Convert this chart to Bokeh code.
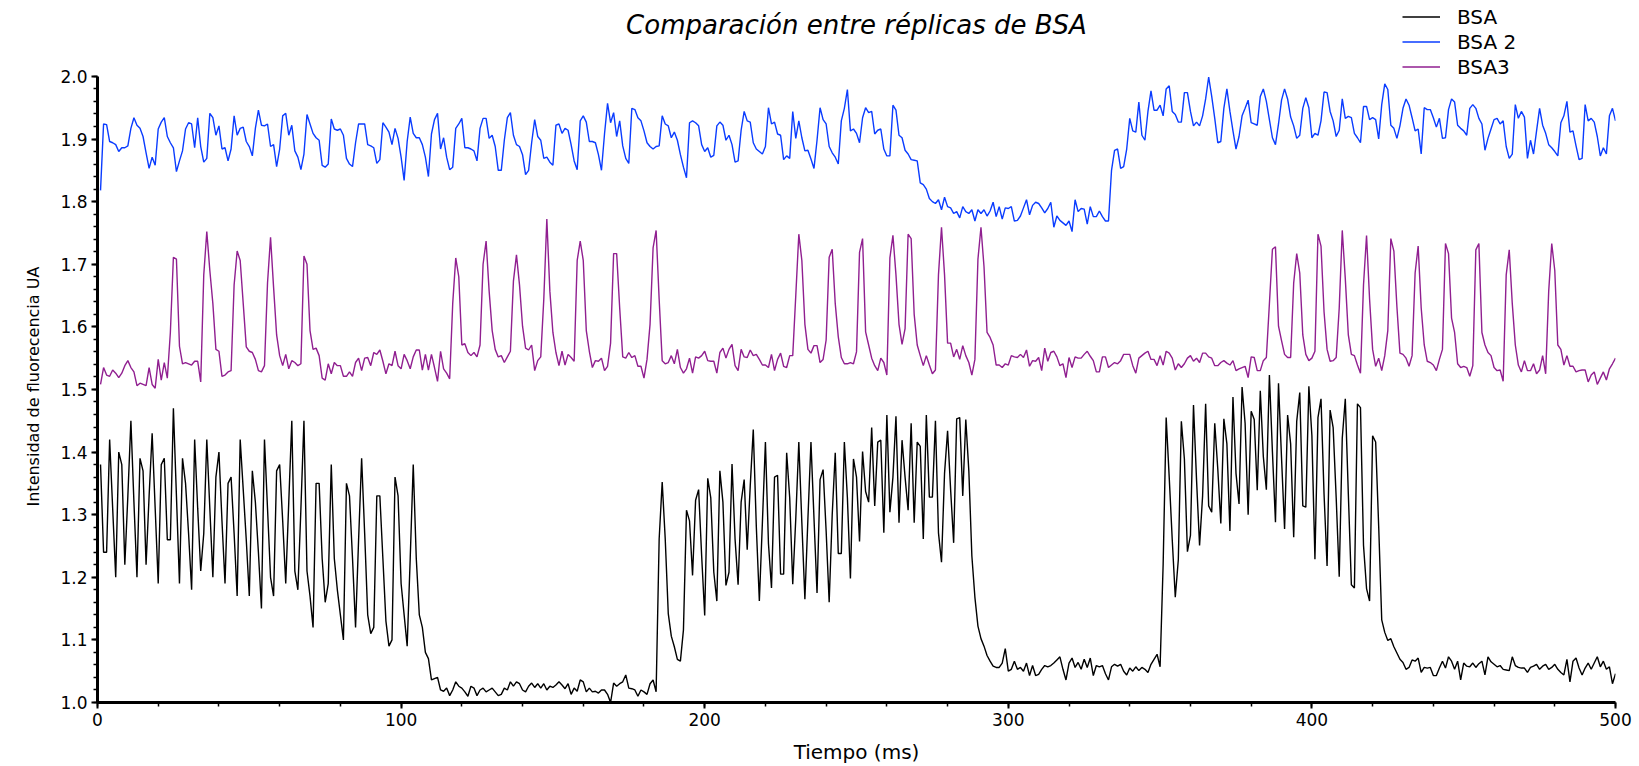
from bokeh.plotting import figure
from bokeh.models import (Range1d, SingleIntervalTicker, PrintfTickFormatter,
                          Legend, LegendItem, Label, Title)
from bokeh.embed import file_html
from bokeh.resources import INLINE

title_text = "Comparación entre réplicas de BSA"
x_label = "Tiempo (ms)"
y_label = "Intensidad de fluorecencia UA"
series_names = ["BSA", "BSA 2", "BSA3"]
series_colors = ["#000000", "#0a3cff", "#901f90"]

# time axis (ms), one sample per ms
time_ms = list(range(1, 501))

bsa = [
    1.38, 1.24, 1.24, 1.42, 1.31, 1.20, 1.40, 1.38, 1.22, 1.33,
    1.45, 1.32, 1.20, 1.39, 1.37, 1.22, 1.33, 1.43, 1.31, 1.19,
    1.38, 1.39, 1.26, 1.26, 1.47, 1.33, 1.19, 1.39, 1.35, 1.27,
    1.18, 1.42, 1.31, 1.21, 1.27, 1.42, 1.31, 1.20, 1.36, 1.40,
    1.29, 1.19, 1.35, 1.36, 1.27, 1.17, 1.42, 1.34, 1.26, 1.17,
    1.37, 1.32, 1.24, 1.15, 1.42, 1.31, 1.20, 1.17, 1.37, 1.38,
    1.29, 1.19, 1.32, 1.45, 1.21, 1.18, 1.31, 1.45, 1.21, 1.17,
    1.12, 1.35, 1.35, 1.23, 1.16, 1.19, 1.38, 1.23, 1.18, 1.14,
    1.10, 1.35, 1.33, 1.23, 1.12, 1.26, 1.39, 1.27, 1.14, 1.11,
    1.12, 1.33, 1.33, 1.23, 1.13, 1.09, 1.10, 1.36, 1.33, 1.19,
    1.14, 1.09, 1.23, 1.38, 1.23, 1.14, 1.12, 1.08, 1.07, 1.036,
    1.038, 1.040, 1.020, 1.018, 1.023, 1.011, 1.020, 1.033, 1.026, 1.023,
    1.017, 1.010, 1.026, 1.023, 1.011, 1.020, 1.023, 1.017, 1.020, 1.023,
    1.017, 1.011, 1.013, 1.023, 1.020, 1.033, 1.026, 1.033, 1.030, 1.020,
    1.017, 1.026, 1.031, 1.024, 1.030, 1.023, 1.030, 1.020, 1.026, 1.024,
    1.028, 1.033, 1.028, 1.022, 1.030, 1.013, 1.023, 1.018, 1.036, 1.033,
    1.017, 1.023, 1.017, 1.018, 1.015, 1.020, 1.020, 1.013, 1.000, 1.031,
    1.026, 1.030, 1.033, 1.044, 1.023, 1.022, 1.020, 1.010, 1.020, 1.017,
    1.013, 1.030, 1.036, 1.017, 1.261, 1.352, 1.261, 1.142, 1.106, 1.089,
    1.069, 1.066, 1.116, 1.307, 1.290, 1.203, 1.323, 1.340, 1.234, 1.139,
    1.358, 1.327, 1.208, 1.162, 1.370, 1.320, 1.187, 1.208, 1.381, 1.261,
    1.188, 1.320, 1.356, 1.244, 1.346, 1.436, 1.281, 1.162, 1.287, 1.416,
    1.254, 1.183, 1.360, 1.363, 1.205, 1.205, 1.399, 1.327, 1.189, 1.294,
    1.416, 1.287, 1.165, 1.294, 1.416, 1.294, 1.175, 1.356, 1.372, 1.274,
    1.160, 1.300, 1.399, 1.238, 1.238, 1.416, 1.327, 1.198, 1.389, 1.360,
    1.257, 1.401, 1.337, 1.320, 1.439, 1.314, 1.416, 1.419, 1.271, 1.459,
    1.304, 1.360, 1.457, 1.287, 1.419, 1.360, 1.307, 1.446, 1.287, 1.416,
    1.409, 1.261, 1.459, 1.328, 1.328, 1.450, 1.271, 1.224, 1.366, 1.434,
    1.340, 1.255, 1.453, 1.455, 1.330, 1.452, 1.370, 1.234, 1.168, 1.122,
    1.102, 1.090, 1.075, 1.066, 1.058, 1.056, 1.056, 1.063, 1.086, 1.050,
    1.053, 1.066, 1.053, 1.056, 1.050, 1.063, 1.043, 1.059, 1.043, 1.045,
    1.053, 1.059, 1.057, 1.059, 1.063, 1.068, 1.073, 1.053, 1.036, 1.063,
    1.071, 1.056, 1.064, 1.053, 1.069, 1.056, 1.071, 1.043, 1.059, 1.057,
    1.059, 1.046, 1.036, 1.057, 1.061, 1.058, 1.061, 1.050, 1.044, 1.055,
    1.050, 1.057, 1.051, 1.056, 1.053, 1.048, 1.061, 1.069, 1.077, 1.057,
    1.220, 1.455, 1.360, 1.260, 1.168, 1.228, 1.449, 1.389, 1.241, 1.267,
    1.475, 1.356, 1.251, 1.330, 1.477, 1.314, 1.304, 1.446, 1.373, 1.286,
    1.453, 1.413, 1.274, 1.488, 1.366, 1.317, 1.504, 1.446, 1.300, 1.465,
    1.452, 1.339, 1.498, 1.393, 1.340, 1.523, 1.400, 1.288, 1.510, 1.390,
    1.277, 1.459, 1.413, 1.264, 1.449, 1.495, 1.314, 1.312, 1.505, 1.426,
    1.229, 1.455, 1.485, 1.333, 1.218, 1.467, 1.439, 1.327, 1.201, 1.422,
    1.485, 1.333, 1.188, 1.183, 1.477, 1.471, 1.251, 1.182, 1.162, 1.426,
    1.416, 1.281, 1.132, 1.112, 1.099, 1.102, 1.089, 1.079, 1.069, 1.064,
    1.053, 1.056, 1.068, 1.066, 1.071, 1.048, 1.056, 1.055, 1.056, 1.043,
    1.043, 1.055, 1.066, 1.055, 1.073, 1.066, 1.053, 1.066, 1.036, 1.063,
    1.058, 1.057, 1.063, 1.056, 1.062, 1.066, 1.044, 1.073, 1.065, 1.061,
    1.057, 1.059, 1.053, 1.052, 1.051, 1.073, 1.059, 1.056, 1.055, 1.055,
    1.048, 1.056, 1.058, 1.061, 1.053, 1.058, 1.061, 1.053, 1.056, 1.061,
    1.053, 1.048, 1.044, 1.069, 1.033, 1.066, 1.071, 1.055, 1.044, 1.055,
    1.063, 1.053, 1.063, 1.073, 1.057, 1.066, 1.053, 1.057, 1.030, 1.046,
]

bsa2 = [
    1.818, 1.924, 1.923, 1.896, 1.894, 1.891, 1.880, 1.886, 1.886, 1.889,
    1.917, 1.934, 1.922, 1.917, 1.904, 1.878, 1.853, 1.871, 1.858, 1.916,
    1.927, 1.934, 1.904, 1.894, 1.886, 1.848, 1.865, 1.881, 1.916, 1.926,
    1.924, 1.886, 1.934, 1.888, 1.863, 1.869, 1.941, 1.934, 1.906, 1.921,
    1.884, 1.886, 1.865, 1.884, 1.937, 1.906, 1.917, 1.919, 1.896, 1.888,
    1.873, 1.917, 1.946, 1.922, 1.921, 1.924, 1.888, 1.891, 1.856, 1.884,
    1.937, 1.941, 1.906, 1.922, 1.881, 1.871, 1.851, 1.876, 1.939, 1.924,
    1.909, 1.902, 1.898, 1.858, 1.855, 1.860, 1.932, 1.916, 1.914, 1.916,
    1.906, 1.869, 1.860, 1.856, 1.894, 1.924, 1.924, 1.924, 1.891, 1.889,
    1.886, 1.861, 1.867, 1.926, 1.919, 1.911, 1.891, 1.917, 1.901, 1.871,
    1.834, 1.896, 1.935, 1.909, 1.902, 1.902, 1.891, 1.871, 1.840, 1.908,
    1.931, 1.941, 1.884, 1.902, 1.871, 1.851, 1.855, 1.917, 1.924, 1.933,
    1.886, 1.886, 1.884, 1.881, 1.865, 1.917, 1.933, 1.933, 1.901, 1.906,
    1.888, 1.850, 1.850, 1.898, 1.934, 1.942, 1.906, 1.891, 1.888, 1.875,
    1.843, 1.850, 1.894, 1.931, 1.904, 1.898, 1.869, 1.871, 1.863, 1.858,
    1.922, 1.924, 1.909, 1.917, 1.914, 1.891, 1.865, 1.851, 1.929, 1.937,
    1.927, 1.896, 1.896, 1.894, 1.875, 1.850, 1.908, 1.957, 1.926, 1.942,
    1.904, 1.929, 1.889, 1.869, 1.861, 1.949, 1.947, 1.934, 1.929, 1.913,
    1.894, 1.888, 1.884, 1.888, 1.889, 1.937, 1.924, 1.921, 1.902, 1.911,
    1.898, 1.875, 1.855, 1.838, 1.926, 1.929, 1.926, 1.921, 1.891, 1.880,
    1.886, 1.871, 1.874, 1.921, 1.927, 1.922, 1.898, 1.906, 1.891, 1.863,
    1.865, 1.914, 1.944, 1.929, 1.927, 1.894, 1.884, 1.880, 1.876, 1.888,
    1.950, 1.924, 1.927, 1.908, 1.906, 1.867, 1.873, 1.869, 1.944, 1.901,
    1.929, 1.902, 1.881, 1.882, 1.868, 1.853, 1.898, 1.950, 1.931, 1.924,
    1.888, 1.878, 1.871, 1.860, 1.929, 1.949, 1.979, 1.913, 1.916, 1.909,
    1.894, 1.934, 1.950, 1.942, 1.944, 1.908, 1.914, 1.916, 1.884, 1.873,
    1.873, 1.954, 1.946, 1.906, 1.902, 1.882, 1.876, 1.867, 1.866, 1.865,
    1.830, 1.827, 1.820, 1.805, 1.800, 1.797, 1.803, 1.787, 1.807, 1.792,
    1.790, 1.781, 1.784, 1.774, 1.792, 1.784, 1.781, 1.787, 1.769, 1.787,
    1.781, 1.787, 1.777, 1.785, 1.799, 1.776, 1.792, 1.772, 1.790, 1.789,
    1.792, 1.769, 1.770, 1.777, 1.790, 1.803, 1.779, 1.794, 1.799, 1.797,
    1.790, 1.782, 1.789, 1.799, 1.759, 1.777, 1.770, 1.766, 1.762, 1.769,
    1.752, 1.803, 1.784, 1.789, 1.788, 1.764, 1.792, 1.776, 1.776, 1.785,
    1.776, 1.769, 1.769, 1.850, 1.882, 1.884, 1.853, 1.856, 1.884, 1.933,
    1.913, 1.911, 1.959, 1.906, 1.898, 1.944, 1.977, 1.946, 1.946, 1.954,
    1.937, 1.980, 1.985, 1.944, 1.939, 1.927, 1.927, 1.974, 1.974, 1.944,
    1.921, 1.927, 1.921, 1.937, 1.964, 1.999, 1.968, 1.933, 1.894, 1.896,
    1.949, 1.980, 1.944, 1.913, 1.884, 1.904, 1.937, 1.949, 1.962, 1.926,
    1.924, 1.922, 1.968, 1.980, 1.960, 1.931, 1.902, 1.891, 1.924, 1.962,
    1.980, 1.964, 1.935, 1.921, 1.901, 1.906, 1.949, 1.966, 1.950, 1.902,
    1.909, 1.906, 1.929, 1.975, 1.974, 1.944, 1.929, 1.904, 1.914, 1.964,
    1.933, 1.936, 1.934, 1.909, 1.902, 1.894, 1.952, 1.952, 1.931, 1.934,
    1.931, 1.900, 1.955, 1.988, 1.979, 1.922, 1.917, 1.901, 1.921, 1.949,
    1.964, 1.954, 1.934, 1.913, 1.916, 1.876, 1.950, 1.947, 1.947, 1.934,
    1.919, 1.933, 1.901, 1.902, 1.947, 1.964, 1.959, 1.922, 1.917, 1.913,
    1.906, 1.949, 1.955, 1.949, 1.933, 1.924, 1.882, 1.901, 1.916, 1.931,
    1.933, 1.924, 1.929, 1.888, 1.869, 1.876, 1.955, 1.933, 1.944, 1.935,
    1.869, 1.898, 1.876, 1.913, 1.949, 1.922, 1.909, 1.891, 1.886, 1.880,
    1.873, 1.926, 1.937, 1.960, 1.911, 1.913, 1.889, 1.867, 1.869, 1.955,
    1.929, 1.933, 1.927, 1.904, 1.873, 1.886, 1.876, 1.937, 1.949, 1.929,
]

bsa3 = [
    1.508, 1.535, 1.523, 1.521, 1.531, 1.526, 1.519, 1.526, 1.538, 1.546,
    1.535, 1.528, 1.506, 1.510, 1.508, 1.506, 1.535, 1.508, 1.502, 1.548,
    1.515, 1.543, 1.518, 1.591, 1.711, 1.708, 1.569, 1.541, 1.543, 1.541,
    1.539, 1.545, 1.545, 1.512, 1.683, 1.752, 1.690, 1.637, 1.564, 1.561,
    1.521, 1.523, 1.528, 1.530, 1.667, 1.721, 1.706, 1.637, 1.568, 1.561,
    1.559, 1.548, 1.530, 1.528, 1.538, 1.670, 1.743, 1.663, 1.587, 1.554,
    1.538, 1.556, 1.533, 1.546, 1.543, 1.538, 1.541, 1.713, 1.700, 1.594,
    1.564, 1.566, 1.554, 1.518, 1.515, 1.541, 1.525, 1.543, 1.538, 1.538,
    1.521, 1.521, 1.528, 1.521, 1.543, 1.550, 1.530, 1.550, 1.551, 1.538,
    1.559, 1.556, 1.563, 1.545, 1.525, 1.541, 1.538, 1.561, 1.538, 1.533,
    1.556, 1.546, 1.533, 1.552, 1.563, 1.563, 1.531, 1.556, 1.531, 1.556,
    1.535, 1.513, 1.561, 1.533, 1.526, 1.517, 1.637, 1.710, 1.680, 1.571,
    1.573, 1.559, 1.554, 1.559, 1.552, 1.571, 1.700, 1.737, 1.657, 1.594,
    1.564, 1.552, 1.554, 1.543, 1.552, 1.561, 1.673, 1.715, 1.667, 1.601,
    1.566, 1.563, 1.571, 1.530, 1.546, 1.552, 1.644, 1.772, 1.657, 1.591,
    1.559, 1.538, 1.561, 1.539, 1.556, 1.551, 1.545, 1.706, 1.737, 1.706,
    1.594, 1.561, 1.535, 1.546, 1.545, 1.550, 1.530, 1.537, 1.574, 1.717,
    1.717, 1.630, 1.552, 1.550, 1.559, 1.551, 1.554, 1.537, 1.537, 1.518,
    1.548, 1.604, 1.726, 1.754, 1.644, 1.546, 1.541, 1.543, 1.554, 1.541,
    1.564, 1.535, 1.526, 1.533, 1.550, 1.526, 1.552, 1.550, 1.554, 1.561,
    1.546, 1.545, 1.545, 1.526, 1.559, 1.566, 1.550, 1.564, 1.572, 1.538,
    1.530, 1.564, 1.552, 1.551, 1.563, 1.554, 1.556, 1.548, 1.539, 1.539,
    1.535, 1.556, 1.530, 1.548, 1.558, 1.537, 1.535, 1.554, 1.554, 1.650,
    1.748, 1.706, 1.604, 1.564, 1.558, 1.570, 1.570, 1.543, 1.548, 1.579,
    1.711, 1.724, 1.637, 1.584, 1.551, 1.541, 1.541, 1.543, 1.541, 1.560,
    1.719, 1.741, 1.592, 1.571, 1.550, 1.538, 1.530, 1.550, 1.543, 1.523,
    1.710, 1.746, 1.683, 1.604, 1.572, 1.597, 1.748, 1.741, 1.620, 1.571,
    1.554, 1.538, 1.554, 1.539, 1.525, 1.531, 1.683, 1.759, 1.683, 1.574,
    1.574, 1.552, 1.564, 1.548, 1.570, 1.554, 1.543, 1.523, 1.548, 1.708,
    1.759, 1.696, 1.591, 1.583, 1.571, 1.539, 1.539, 1.535, 1.541, 1.539,
    1.554, 1.552, 1.551, 1.556, 1.551, 1.563, 1.537, 1.546, 1.545, 1.551,
    1.530, 1.566, 1.545, 1.559, 1.561, 1.552, 1.538, 1.541, 1.519, 1.551,
    1.535, 1.552, 1.550, 1.550, 1.556, 1.561, 1.553, 1.546, 1.528, 1.528,
    1.552, 1.552, 1.535, 1.539, 1.543, 1.541, 1.546, 1.556, 1.556, 1.556,
    1.538, 1.526, 1.550, 1.554, 1.558, 1.561, 1.548, 1.548, 1.538, 1.554,
    1.539, 1.561, 1.558, 1.550, 1.531, 1.541, 1.535, 1.541, 1.550, 1.554,
    1.545, 1.550, 1.543, 1.558, 1.558, 1.552, 1.550, 1.538, 1.538, 1.543,
    1.546, 1.542, 1.539, 1.546, 1.530, 1.533, 1.535, 1.537, 1.519, 1.552,
    1.551, 1.530, 1.530, 1.546, 1.551, 1.637, 1.724, 1.728, 1.601, 1.578,
    1.556, 1.551, 1.551, 1.670, 1.717, 1.686, 1.587, 1.556, 1.546, 1.550,
    1.561, 1.748, 1.729, 1.624, 1.564, 1.545, 1.546, 1.551, 1.630, 1.754,
    1.677, 1.587, 1.556, 1.554, 1.539, 1.526, 1.667, 1.746, 1.644, 1.564,
    1.537, 1.550, 1.530, 1.554, 1.594, 1.741, 1.721, 1.632, 1.558, 1.556,
    1.550, 1.537, 1.554, 1.686, 1.729, 1.630, 1.571, 1.545, 1.543, 1.539,
    1.530, 1.548, 1.564, 1.733, 1.717, 1.614, 1.591, 1.541, 1.535, 1.537,
    1.535, 1.521, 1.538, 1.723, 1.733, 1.591, 1.571, 1.559, 1.554, 1.535,
    1.530, 1.531, 1.513, 1.683, 1.723, 1.637, 1.571, 1.539, 1.528, 1.546,
    1.530, 1.530, 1.541, 1.525, 1.531, 1.554, 1.525, 1.657, 1.733, 1.690,
    1.571, 1.564, 1.539, 1.554, 1.537, 1.537, 1.528, 1.530, 1.531, 1.531,
    1.512, 1.523, 1.528, 1.508, 1.518, 1.528, 1.515, 1.533, 1.541, 1.550,
]

FONT = "DejaVu Sans"

# Frame spans the full canvas height above the x axis; the axes are bounded to
# 1.0-2.0 so the title and legend can sit inside the frame at the top.
Y_TOP = 2.0 + 76.0 / 627.0

p = figure(width=1639, height=766, output_backend="svg", toolbar_location=None,
           x_range=Range1d(0, 500), y_range=Range1d(1.0, Y_TOP),
           min_border_left=97, min_border_right=24,
           min_border_top=0, min_border_bottom=63)
p.title.visible = False
p.xgrid.grid_line_color = None
p.ygrid.grid_line_color = None
p.outline_line_color = None
p.background_fill_color = "white"
p.border_fill_color = "white"

renderers = []
for name, ys, col in zip(series_names, [bsa, bsa2, bsa3], series_colors):
    r = p.line(time_ms[:len(ys)], ys, line_color=col, line_width=1.4)
    renderers.append((name, r))

# axes
p.xaxis.ticker = SingleIntervalTicker(interval=100, num_minor_ticks=5)
p.yaxis.ticker = SingleIntervalTicker(interval=0.1, num_minor_ticks=5)
p.yaxis.formatter = PrintfTickFormatter(format="%.1f")
p.yaxis.bounds = (1.0, 2.0)
p.xaxis.bounds = (0, 500)
for ax in (p.xaxis[0], p.yaxis[0]):
    ax.axis_line_width = 3
    ax.axis_line_color = "black"
    ax.major_tick_line_color = "black"
    ax.minor_tick_line_color = "black"
    ax.major_tick_line_width = 2
    ax.minor_tick_line_width = 1.5
    ax.major_tick_in = 0
    ax.major_tick_out = 6
    ax.minor_tick_in = 0
    ax.minor_tick_out = 4
    ax.major_label_text_font = FONT
    ax.major_label_text_font_size = "17px"
    ax.major_label_text_color = "black"
    ax.axis_label_text_font = FONT
    ax.axis_label_text_font_style = "normal"
    ax.axis_label_text_color = "black"
    ax.major_label_standoff = 4

p.xaxis.axis_label = x_label
p.xaxis.axis_label_text_font_size = "20px"
p.xaxis.axis_label_standoff = 11

# y-axis title, placed along the bounded 1.0-2.0 span (start offset from frame bottom)
y_title = Title(text=y_label, align="left", offset=196, standoff=30,
                text_font=FONT, text_font_size="16px", text_font_style="normal",
                text_color="black")
p.add_layout(y_title, "left")

# chart title
title = Label(x=250, y=2.0 + 51.0 / 627.0, x_units="data", y_units="data",
              text=title_text, text_align="center", text_baseline="middle",
              text_font=FONT, text_font_style="italic", text_font_size="26px",
              text_color="black")
p.add_layout(title)

# legend: tuple location = bottom-left corner, screen px from frame bottom-left
legend = Legend(items=[LegendItem(label=n, renderers=[r]) for n, r in renderers],
                location=(1305, 623), orientation="vertical",
                border_line_alpha=0, background_fill_alpha=0,
                padding=0, margin=0, spacing=0,
                glyph_width=38, glyph_height=25, label_height=25,
                label_standoff=17, label_text_font=FONT,
                label_text_font_size="20px", label_text_color="black")
p.add_layout(legend)

open("out.html", "w").write(file_html(p, INLINE))
